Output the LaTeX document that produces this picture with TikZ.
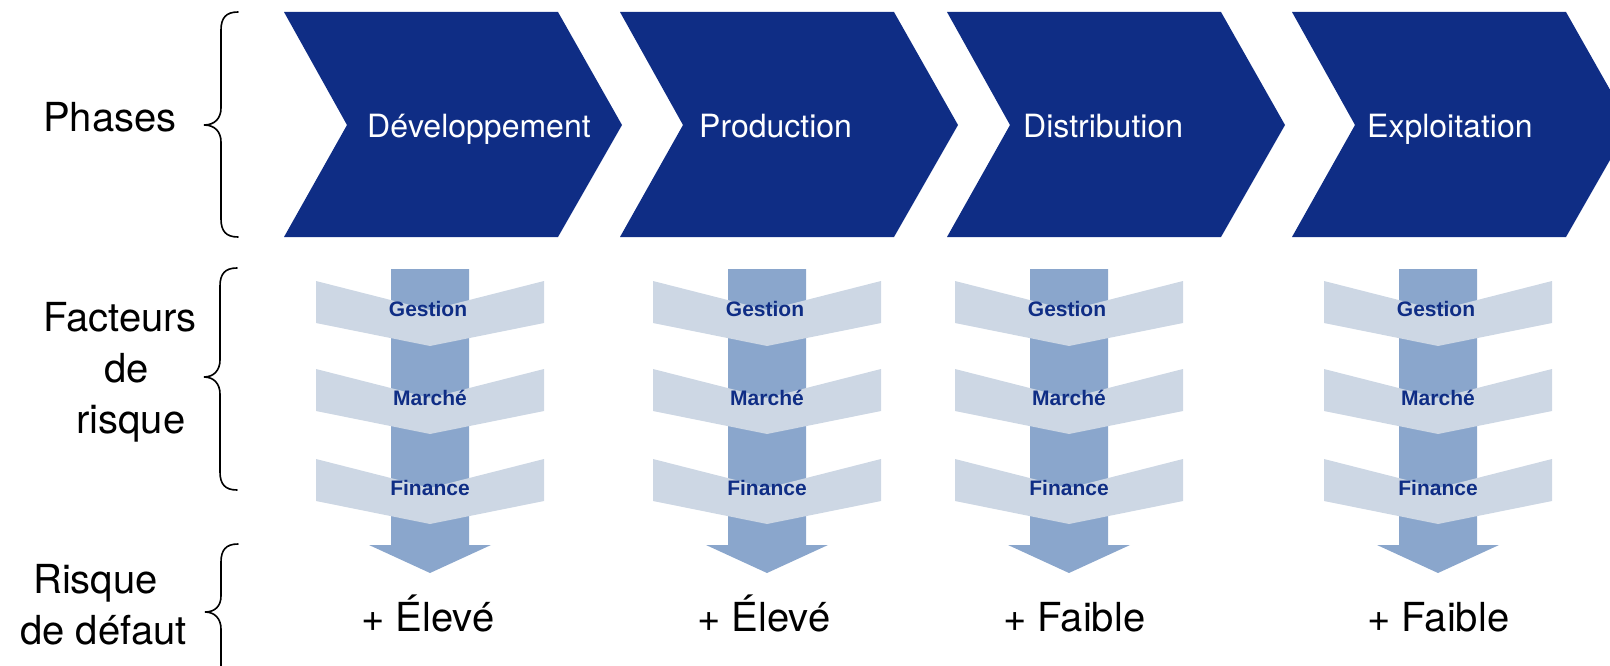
\documentclass[tikz,border=0pt]{standalone}
\usepackage{fontspec}
\setmainfont{TeX Gyre Heros}
\newfontfamily\boldfont{Liberation Sans}
\definecolor{phaseblue}{RGB}{15,45,133}
\definecolor{shaftblue}{RGB}{138,166,204}
\definecolor{bandblue}{RGB}{205,215,228}
\tikzset{
  phasebox/.style={fill=phaseblue, draw=none},
  shaftarrow/.style={fill=shaftblue, draw=none},
  bandbox/.style={fill=bandblue, draw=none},
  phasetext/.style={inner sep=0pt, anchor=base west, text=white, font=\fontsize{32}{38}\selectfont},
  bandtext/.style={inner sep=0pt, anchor=base, text=phaseblue, font=\boldfont\bfseries\fontsize{21}{25}\selectfont},
  labeltext/.style={inner sep=0pt, anchor=base west, text=black, font=\fontsize{40}{48}\selectfont},
  bracepath/.style={draw=black, line width=1.6pt, line cap=round}
}
\begin{document}
\begin{tikzpicture}[x=1pt, y=-1pt]
\useasboundingbox (0,0) rectangle (1610,666);
\begin{scope}
\clip (0,0) rectangle (1610,666);
% phase chevrons
\foreach \xs/\nm in {284/a,620/b,947/c,1292/d}{
  \path[phasebox] (\xs,12) -- ++(274,0) -- ++(64,113) -- ++(-64,112) -- ++(-274,0) -- ++(63,-112) -- cycle;
}
\node[phasetext] (p1) at (367,138) {Développement};
\node[phasetext] (p2) at (699,138) {Production};
\node[phasetext] (p3) at (1023,138) {Distribution};
\node[phasetext] (p4) at (1367,138) {Exploitation};
% risk factor columns
\foreach \cx/\nm in {430/a,767/b,1069/c,1438/d}{
  \path[shaftarrow] (\cx-39,269) -- (\cx+39,269) -- (\cx+39,545) -- (\cx+61,545) -- (\cx,573) -- (\cx-61,545) -- (\cx-39,545) -- cycle;
  \foreach \yt in {281,369,459}{
    \path[bandbox] (\cx-114,\yt) -- (\cx,\yt+29) -- (\cx+114,\yt) -- (\cx+114,\yt+42) -- (\cx,\yt+65) -- (\cx-114,\yt+42) -- cycle;
  }
  \node[bandtext] (g\nm) at (\cx-2,316) {Gestion};
  \node[bandtext] (m\nm) at (\cx,405) {Marché};
  \node[bandtext] (f\nm) at (\cx,495) {Finance};
}
% bottom results
\node[labeltext] (r1) at (361,631) {+ Élevé};
\node[labeltext] (r2) at (697,631) {+ Élevé};
\node[labeltext] (r3) at (1003,631) {+ Faible};
\node[labeltext] (r4) at (1367,631) {+ Faible};
% left labels
\node[labeltext] (l1) at (43,132) {Phases};
\node[labeltext] (l2a) at (43,331) {Facteurs};
\node[labeltext] (l2b) at (104,382) {de};
\node[labeltext] (l2c) at (76,433) {risque};
\node[labeltext] (l3a) at (33,593) {Risque};
\node[labeltext] (l3b) at (20,644) {de défaut};
% braces
\path[bracepath] (238,12) .. controls (226,12) and (221,18) .. (221,30) -- (221,108)
  .. controls (221,118) and (215,125) .. (204,125)
  .. controls (215,125) and (221,132) .. (221,142) -- (221,219)
  .. controls (221,231) and (226,237) .. (238,237);
\path[bracepath] (237,268) .. controls (225,268) and (220,274) .. (220,286) -- (220,360)
  .. controls (220,370) and (214,377) .. (204,377)
  .. controls (214,377) and (220,384) .. (220,394) -- (220,472)
  .. controls (220,484) and (225,490) .. (237,490);
\path[bracepath] (238,544) .. controls (226,544) and (221,550) .. (221,562) -- (221,596)
  .. controls (221,606) and (215,612) .. (205,612)
  .. controls (215,612) and (221,619) .. (221,629) -- (221,700);
\end{scope}
\end{tikzpicture}
\end{document}
